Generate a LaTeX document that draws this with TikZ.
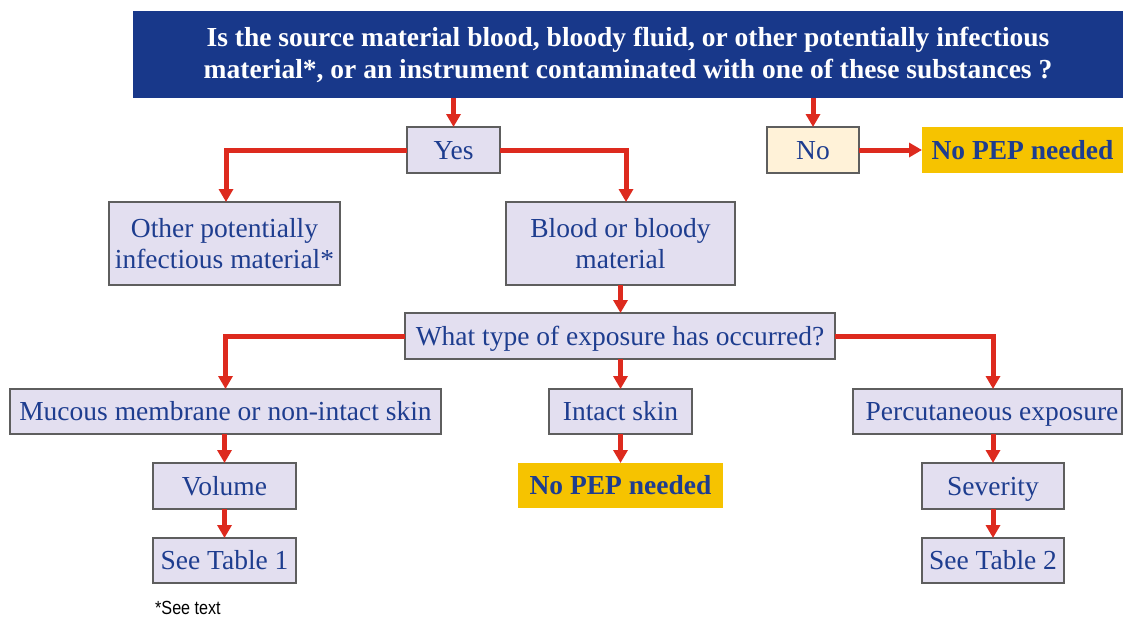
\documentclass[tikz,border=0pt]{standalone}
\usepackage{fontspec}
\setmainfont{Liberation Serif}
\newfontfamily\narrowsans[FakeStretch=0.85]{Liberation Sans}
\usetikzlibrary{arrows.meta}
\definecolor{topblue}{HTML}{18388A}
\definecolor{txtblue}{HTML}{1E3D8F}
\definecolor{lav}{HTML}{E3DFF0}
\definecolor{cream}{HTML}{FFF2D8}
\definecolor{gold}{HTML}{F6C300}
\definecolor{redline}{HTML}{DD2A1E}
\definecolor{edge}{HTML}{5E5E5E}
\begin{document}
\begin{tikzpicture}[x=1pt,y=-1pt,
  base/.style={inner sep=0pt,outer sep=0pt,align=center,text=txtblue,
    font=\fontsize{27.5}{31}\selectfont},
  one/.style={text height=24pt,text depth=6pt},
  lavtwo/.style={base,fill=lav,draw=edge,line width=1.5pt},
  lavbox/.style={lavtwo,one},
  creambox/.style={base,one,fill=cream,draw=edge,line width=1.5pt},
  goldbox/.style={base,one,fill=gold,font=\fontsize{27.5}{31}\selectfont\bfseries},
  topbox/.style={base,fill=topblue,text=white,font=\fontsize{27.5}{32}\selectfont\bfseries},
  arr/.style={draw=redline,line width=5pt,-{Triangle[width=14pt,length=13pt]}}
]
\useasboundingbox (0,0) rectangle (1123,616);
\fill[white] (0,0) rectangle (1123,616);

\node[topbox,minimum width=990pt,minimum height=87pt] (top) at (628,54.5)
  {Is the source material blood, bloody fluid, or other potentially infectious\\
   material*, or an instrument contaminated with one of these substances ?};

\node[lavbox,minimum width=93pt,minimum height=46pt] (yes) at (453.5,150) {Yes};
\node[creambox,minimum width=92pt,minimum height=46pt] (no) at (813,150) {No};
\node[goldbox,minimum width=201pt,minimum height=46pt] (nopepa) at (1022.5,150) {No PEP needed};

\node[lavtwo,minimum width=231pt,minimum height=83pt] (other) at (224.5,243.5)
  {Other potentially\\infectious material*};
\node[lavtwo,minimum width=229pt,minimum height=83pt] (blood) at (620.5,243.5)
  {Blood or bloody\\material};

\node[lavbox,minimum width=430pt,minimum height=46pt] (what) at (620,336)
  {What type of exposure has occurred?};

\node[lavbox,minimum width=431pt,minimum height=45pt] (mucous) at (225.5,411.5)
  {Mucous membrane or non-intact skin};
\node[lavbox,minimum width=143pt,minimum height=45pt] (intact) at (620.5,411.5)
  {Intact skin};
\node[lavbox,minimum width=269pt,minimum height=45pt] (percut) at (987.5,411.5)
  {\hspace*{9pt}Percutaneous exposure};

\node[goldbox,minimum width=205pt,minimum height=45pt] (nopepb) at (620.5,485.5) {No PEP needed};

\node[lavbox,minimum width=143pt,minimum height=46pt] (volume) at (224.5,486) {Volume};
\node[lavbox,minimum width=143pt,minimum height=45pt] (tablea) at (224.5,560.5) {See Table 1};
\node[lavbox,minimum width=142pt,minimum height=46pt] (severity) at (993,486) {Severity};
\node[lavbox,minimum width=142pt,minimum height=45pt] (tableb) at (993,560.5) {See Table 2};

\node[inner sep=0pt,anchor=base west,font=\narrowsans\fontsize{19}{21}\selectfont,text=black] (note) at (155,614) {*See text};

\draw[arr] (top.south -| yes.north) -- (yes.north);
\draw[arr] (top.south -| no.north) -- (no.north);
\draw[arr] (no.east) -- (nopepa.west);
\draw[arr] (yes.west) -| ([xshift=1.5pt]other.north);
\draw[arr] (yes.east) -| ([xshift=5.5pt]blood.north);
\draw[arr] (blood.south) -- (what.north -| blood.south);
\draw[arr] (what.west) -| (mucous.north);
\draw[arr] (what.south -| intact.north) -- (intact.north);
\draw[arr] (what.east) -| ([xshift=5.5pt]percut.north);
\draw[arr] (intact.south) -- (nopepb.north);
\draw[arr] (mucous.south -| volume.north) -- (volume.north);
\draw[arr] (volume.south) -- (tablea.north);
\draw[arr] (percut.south -| severity.north) -- (severity.north);
\draw[arr] (severity.south) -- (tableb.north);
\end{tikzpicture}
\end{document}
